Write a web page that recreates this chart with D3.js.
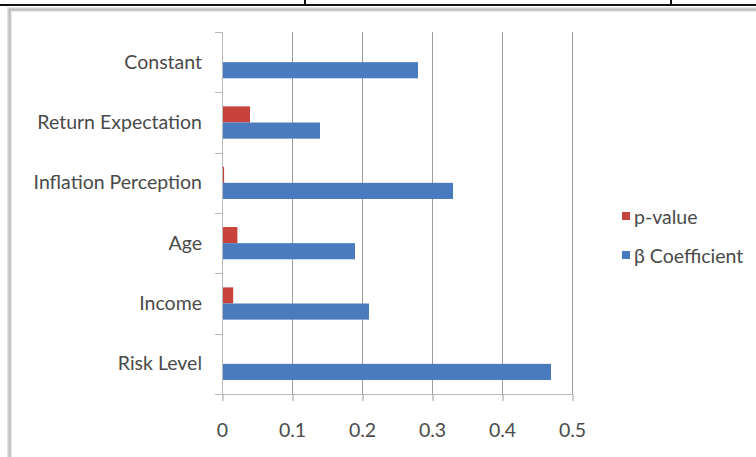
<!DOCTYPE html>
<html>
<head>
<meta charset="utf-8">
<script src="https://cdn.jsdelivr.net/npm/d3@7"></script>
<style>
  html, body { margin: 0; padding: 0; background: #fff; }
  svg { display: block; }
  text { font-family: Lato, "Open Sans", sans-serif; fill: #4a4a4a; }
</style>
</head>
<body>
<svg id="chart" width="756" height="457"></svg>
<script>
// Regression results: coefficient and significance per predictor
const categories = ["Constant", "Return Expectation", "Inflation Perception", "Age", "Income", "Risk Level"];
const pValues = [0, 0.04, 0.003, 0.022, 0.016, 0];
const betaCoefficients = [0.28, 0.14, 0.33, 0.19, 0.21, 0.47];
const seriesNames = ["p-value", "β Coefficient"];
const seriesColors = ["#c8433b", "#4a7bbf"];
const xTicks = [0, 0.1, 0.2, 0.3, 0.4, 0.5];

const rows = categories.map((c, i) => ({ category: c, values: [pValues[i], betaCoefficients[i]] }));

const svg = d3.select("#chart");
const W = 756, H = 457;
const plot = { left: 222, right: 572, top: 32, bottom: 394 };
const fontSize = 19.5;

// page rule with column marks above the chart frame
svg.append("rect").attr("x", 0).attr("y", 4).attr("width", W).attr("height", 2).attr("fill", "#111");
[305, 671].forEach(x => svg.append("rect").attr("x", x - 1).attr("y", 0).attr("width", 2).attr("height", 6).attr("fill", "#111"));

// chart frame
svg.append("rect").attr("x", 9.5).attr("y", 9.5).attr("width", W + 20).attr("height", H + 20)
  .attr("fill", "none").attr("stroke", "#e4e4e4").attr("stroke-width", 5);
svg.append("rect").attr("x", 9.5).attr("y", 9.5).attr("width", W + 20).attr("height", H + 20)
  .attr("fill", "none").attr("stroke", "#b9b9b9").attr("stroke-width", 2);

const x = d3.scaleLinear().domain([0, 0.5]).range([plot.left, plot.right]);
const y = d3.scaleBand().domain(categories).range([plot.top, plot.bottom]).padding(0);
const inner = d3.scaleBand().domain(seriesNames).range([0, y.bandwidth()]).paddingInner(0).paddingOuter(0.87);

// vertical gridlines
svg.append("g").selectAll("line").data(xTicks.slice(1)).join("line")
  .attr("x1", d => x(d) + 0.5).attr("x2", d => x(d) + 0.5)
  .attr("y1", plot.top).attr("y2", plot.bottom)
  .attr("stroke", "#9c9c9c").attr("stroke-width", 1);

// bars
const groups = svg.append("g").selectAll("g").data(rows).join("g")
  .attr("transform", d => `translate(0,${y(d.category)})`);
groups.selectAll("rect").data(d => d.values.map((v, i) => ({ v, s: seriesNames[i], i }))).join("rect")
  .attr("x", x(0))
  .attr("y", d => inner(d.s))
  .attr("width", d => x(d.v) - x(0))
  .attr("height", inner.bandwidth())
  .attr("fill", d => seriesColors[d.i]);

// bottom axis
const xAxis = d3.axisBottom(x).tickValues(xTicks).tickSize(7).tickPadding(22)
  .tickFormat(d => d === 0 ? "0" : d3.format(".1f")(d));
const gx = svg.append("g").attr("transform", `translate(0,${plot.bottom})`).call(xAxis);
gx.select(".domain").attr("stroke", "#b8b8b8").attr("d", `M${plot.left - 7},0.5H${plot.right + 0.5}`);
gx.selectAll(".tick line").attr("stroke", "#9c9c9c").attr("transform", "translate(0.5,0)");
gx.selectAll(".tick text").attr("font-size", fontSize).attr("fill", "#4a4a4a").attr("font-family", "Lato, sans-serif");

// left axis with category labels and boundary ticks
const ga = svg.append("g");
ga.append("line").attr("x1", plot.left + 0.5).attr("x2", plot.left + 0.5)
  .attr("y1", plot.top).attr("y2", plot.bottom).attr("stroke", "#b8b8b8");
const boundaries = categories.map(c => y(c)).concat([plot.bottom]);
ga.selectAll("line.b").data(boundaries).join("line").attr("class", "b")
  .attr("x1", plot.left - 7).attr("x2", plot.left)
  .attr("y1", d => Math.round(d) + 0.5).attr("y2", d => Math.round(d) + 0.5)
  .attr("stroke", "#b8b8b8");
ga.selectAll("text").data(categories).join("text")
  .attr("x", 202).attr("y", d => y(d) + y.bandwidth() / 2 - 1)
  .attr("text-anchor", "end").attr("dominant-baseline", "central")
  .attr("font-size", fontSize)
  .text(d => d);

// legend (p-value listed first)
const lg = svg.append("g").attr("transform", "translate(622,212)");
const li = lg.selectAll("g").data(seriesNames).join("g")
  .attr("transform", (d, i) => `translate(0,${i * 39})`);
li.append("rect").attr("width", 8).attr("height", 8).attr("fill", (d, i) => seriesColors[i]);
li.append("text").attr("x", 12).attr("y", 4).attr("dominant-baseline", "central")
  .attr("font-size", fontSize).text(d => d);
</script>
</body>
</html>
